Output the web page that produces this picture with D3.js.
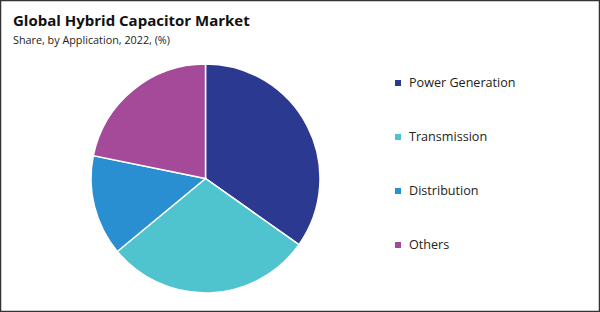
<!DOCTYPE html>
<html>
<head>
<meta charset="utf-8">
<script src="https://cdn.jsdelivr.net/npm/d3@7"></script>
<style>
  body { margin: 0; background: #fff; }
  #chart { width: 600px; height: 312px; }
</style>
</head>
<body>
<div id="chart"></div>
<script>
// data
const categories = ["Power Generation", "Transmission", "Distribution", "Others"];
const shares = [34.8, 29.2, 14.2, 21.8];
const colors = ["#2b3990", "#4fc4cf", "#2a8fd1", "#a54a98"];

const width = 600, height = 312;

const svg = d3.select("#chart").append("svg")
    .attr("width", width)
    .attr("height", height);

// outer frame
svg.append("rect")
    .attr("x", 0.5).attr("y", 0.5)
    .attr("width", width - 1).attr("height", height - 1)
    .attr("fill", "#fff")
    .attr("stroke", "#333")
    .attr("stroke-width", 1.5);

// title
svg.append("text")
    .attr("x", 13).attr("y", 26)
    .attr("font-family", "Open Sans, sans-serif")
    .attr("font-weight", 700)
    .attr("font-size", "15px")
    .attr("fill", "#111")
    .text("Global Hybrid Capacitor Market");

svg.append("text")
    .attr("x", 13).attr("y", 44)
    .attr("font-family", "Open Sans, sans-serif")
    .attr("font-size", "10.8px")
    .attr("fill", "#222")
    .text("Share, by Application, 2022, (%)");

// pie
const data = categories.map((c, i) => ({ name: c, value: shares[i], color: colors[i] }));

const pie = d3.pie()
    .sort(null)
    .value(d => d.value);

const radius = 114.5;
const arc = d3.arc()
    .innerRadius(0)
    .outerRadius(radius);

const g = svg.append("g")
    .attr("transform", "translate(205.5,178.5)");

g.selectAll("path")
    .data(pie(data))
    .join("path")
    .attr("d", arc)
    .attr("fill", d => d.data.color)
    .attr("stroke", "#fff")
    .attr("stroke-width", 1.5);

// legend
const legend = svg.append("g")
    .attr("transform", "translate(395,83)");

const item = legend.selectAll("g")
    .data(data)
    .join("g")
    .attr("transform", (d, i) => `translate(0,${i * 54})`);

item.append("rect")
    .attr("x", 0).attr("y", -3)
    .attr("width", 6).attr("height", 6)
    .attr("fill", d => d.color);

item.append("text")
    .attr("x", 14).attr("y", 0)
    .attr("dy", "0.35em")
    .attr("font-family", "Open Sans, sans-serif")
    .attr("font-size", "12.6px")
    .attr("fill", "#222")
    .text(d => d.name);
</script>
</body>
</html>
